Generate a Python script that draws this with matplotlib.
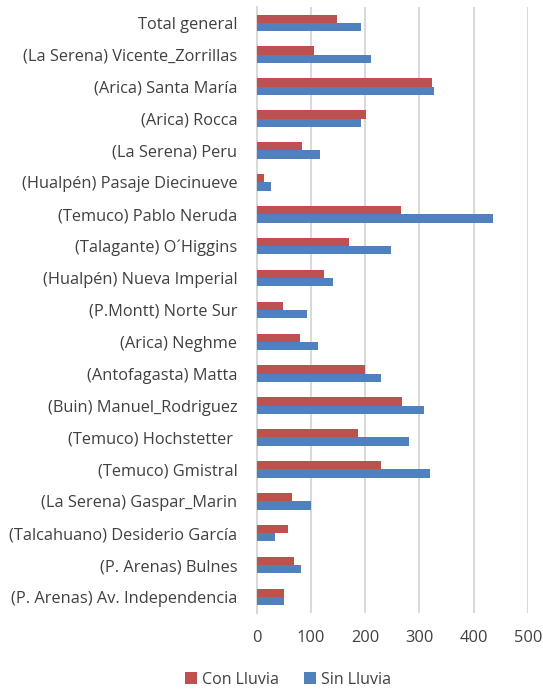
import numpy as np
import matplotlib.pyplot as plt

plt.rcParams['font.family'] = ['Open Sans', 'DejaVu Sans']

# Categories, bottom to top
categories = [
    '(P. Arenas) Av. Independencia',
    '(P. Arenas) Bulnes',
    '(Talcahuano) Desiderio García',
    '(La Serena) Gaspar_Marin',
    '(Temuco) Gmistral',
    '(Temuco) Hochstetter ',
    '(Buin) Manuel_Rodriguez',
    '(Antofagasta) Matta',
    '(Arica) Neghme',
    '(P.Montt) Norte Sur',
    '(Hualpén) Nueva Imperial',
    '(Talagante) O´Higgins',
    '(Temuco) Pablo Neruda',
    '(Hualpén) Pasaje Diecinueve',
    '(La Serena) Peru',
    '(Arica) Rocca',
    '(Arica) Santa María',
    '(La Serena) Vicente_Zorrillas',
    'Total general',
]
con_lluvia = [50, 68, 58, 64, 229, 186, 267, 199, 80, 48, 124, 170, 266, 13, 83, 202, 324, 106, 147]
sin_lluvia = [50, 81, 34, 100, 320, 280, 309, 229, 113, 92, 140, 248, 435, 27, 117, 192, 326, 210, 192]

red = '#C0504D'
blue = '#4F81BD'

fig = plt.figure(figsize=(5.43, 6.91), dpi=100)
ax = fig.add_axes([0.473, 0.113, 0.499, 0.877])

y = np.arange(len(categories))
h = 0.26
ax.barh(y + h/2, con_lluvia, height=h, color=red, label='Con Lluvia', zorder=3)
ax.barh(y - h/2, sin_lluvia, height=h, color=blue, label='Sin Lluvia', zorder=3)

ax.set_xlim(0, 500)
ax.set_ylim(-0.5, len(categories) - 0.5)
ax.set_xticks(np.arange(0, 501, 100))
ax.set_yticks(y)
ax.set_yticklabels(categories)
ax.grid(axis='x', color='#d9d9d9', linewidth=1.5, zorder=0)
for s in ['top', 'right', 'bottom']:
    ax.spines[s].set_visible(False)
ax.spines['left'].set_color('#d9d9d9')
ax.spines['left'].set_linewidth(1.5)
ax.tick_params(axis='both', length=0, labelsize=11.8, labelcolor='#404040')
ax.tick_params(axis='y', pad=14)
ax.tick_params(axis='x', pad=12)

handles, labels = ax.get_legend_handles_labels()
fig.legend(handles, labels, loc='lower center', bbox_to_anchor=(0.53, -0.016), ncol=2,
           frameon=False, fontsize=11.5, labelcolor='#404040',
           handlelength=0.75, handleheight=0.75, handletextpad=0.3, columnspacing=1.6)

fig.savefig('out.png', dpi=100)
